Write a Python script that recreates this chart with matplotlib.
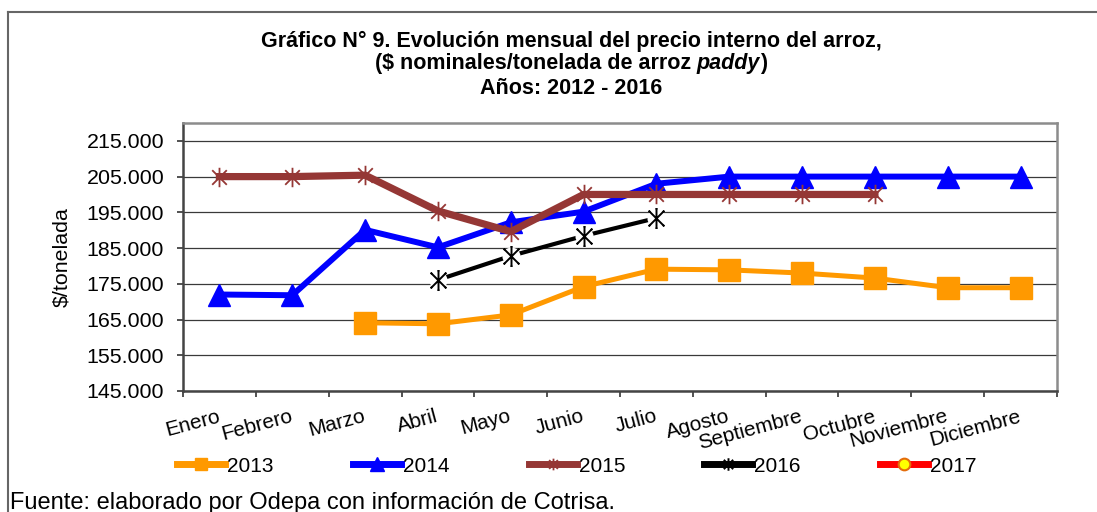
import numpy as np
import matplotlib
matplotlib.use("Agg")
import matplotlib.pyplot as plt
from matplotlib.path import Path
from matplotlib.lines import Line2D
from matplotlib.ticker import FuncFormatter, FixedLocator

plt.rcParams['font.family'] = ['Liberation Sans', 'DejaVu Sans']

meses = ["Enero", "Febrero", "Marzo", "Abril", "Mayo", "Junio", "Julio",
         "Agosto", "Septiembre", "Octubre", "Noviembre", "Diciembre"]
nan = np.nan
p2013 = [nan, nan, 164100, 163800, 166300, 174200, 179100, 178900, 178000, 176600, 173900, 173900]
p2014 = [172000, 171800, 190100, 185200, 192200, 195200, 203000, 205000, 205000, 205000, 205000, 205000]
p2015 = [205000, 205000, 205400, 195400, 189600, 200000, 200000, 200000, 200000, 200000, nan, nan]
p2016 = [nan, nan, nan, 176100, 182800, 188400, 193400, nan, nan, nan, nan, nan]
p2017 = [nan] * 12
yticks = [145000, 155000, 165000, 175000, 185000, 195000, 205000, 215000]

# Excel "star" marker: X plus vertical bar
star = Path([(0, -1), (0, 1), (-0.75, -0.75), (0.75, 0.75), (-0.75, 0.75), (0.75, -0.75)],
            [Path.MOVETO, Path.LINETO] * 3)

W, H = 1097, 512
fig = plt.figure(figsize=(W / 100, H / 100), dpi=100)
ax = fig.add_axes([183 / W, 1 - 391 / H, (1057 - 183) / W, (391 - 123) / H])

x = np.arange(len(meses))

l13, = ax.plot(x, p2013, color='#FF9900', lw=3.6, marker='s', ms=15.5,
               mfc='#FF9900', mec='#FF9900', label='2013', zorder=3)
l14, = ax.plot(x, p2014, color='#0000FF', lw=4.3, marker='^', ms=16,
               mfc='#0000FF', mec='#0000FF', label='2014', zorder=4)
l15, = ax.plot(x, p2015, color='#953735', lw=5.2, marker=star, ms=14,
               mec='#953735', mew=1.3, label='2015', zorder=5)
# 2016: markers sit on a white patch that cuts the line
l16, = ax.plot(x, p2016, color='black', lw=3, marker=star, ms=15,
               mec='black', mew=1.4, label='2016', zorder=6)
ax.plot(x, p2016, ls='none', marker='o', ms=13, mfc='white', mec='none', zorder=6.5)
ax.plot(x, p2016, ls='none', marker=star, ms=15, mec='black', mew=1.4, zorder=7)
l17, = ax.plot(x, p2017, color='#FF0000', lw=3, marker='o', ms=14,
               mfc='#FFFF00', mec='#E46C0A', mew=1.5, label='2017')

ax.set_xlim(-0.5, len(meses) - 0.5)
ax.set_ylim(145000, 220000)
ax.yaxis.set_major_locator(FixedLocator(yticks))
ax.yaxis.set_major_formatter(FuncFormatter(lambda v, p: f"{int(v):,}".replace(",", ".")))
ax.grid(axis='y', color='#3a3a3a', lw=0.9)
ax.set_axisbelow(True)

ax.set_xticks(x)
ax.set_xticklabels(meses, rotation=15, ha='right', va='center', rotation_mode='anchor')
ax.set_xticks(np.arange(-0.5, len(meses)), minor=True)
ax.tick_params(axis='x', which='major', length=0, pad=18, labelsize=15)
ax.tick_params(axis='x', which='minor', length=4.5, width=1.2, direction='out', color='#333333')
ax.tick_params(axis='y', length=4.5, width=1.2, direction='out', pad=9, labelsize=15.4, color='#333333')

for side in ['left', 'bottom']:
    ax.spines[side].set_color('#444444')
    ax.spines[side].set_linewidth(1.8)
for side in ['top', 'right']:
    ax.spines[side].set_color('#8c8c8c')
    ax.spines[side].set_linewidth(1.8)

ax.set_ylabel(r"\$/tonelada", fontsize=15.4, labelpad=11)

# title, three lines (second one mixes bold and bold italic)
cx = 571 / W
fs_t = 15.5
fig.text(cx, 1 - 41 / H, "Gráfico N° 9. Evolución mensual del precio interno del arroz,",
         ha='center', va='center', fontsize=fs_t, fontweight='bold')
fig.text(cx, 1 - 88 / H, "Años: 2012 - 2016",
         ha='center', va='center', fontsize=fs_t, fontweight='bold')

parts = [(r"(\$ nominales/tonelada de arroz ", 'normal'), ("paddy", 'italic'), (")", 'normal')]
renderer = fig.canvas.get_renderer()
texts = [fig.text(0, 1 - 63 / H, s, ha='left', va='center', fontsize=fs_t,
                  fontweight='bold', fontstyle=st) for s, st in parts]
widths = [t.get_window_extent(renderer).width / W for t in texts]
start = cx - sum(widths) / 2
for t, w in zip(texts, widths):
    t.set_x(start)
    start += w

leg = fig.legend([l13, l14, l15, l16, l17], ['2013', '2014', '2015', '2016', '2017'],
                 loc='center', bbox_to_anchor=(577 / W, 1 - 466 / H), ncol=5,
                 frameon=False, fontsize=15, handlelength=2.3, handletextpad=0.1,
                 columnspacing=3.8, markerscale=0.6)
for ln in leg.get_lines():
    ln.set_linewidth(5)

fig.text(10 / W, 1 - 503 / H, "Fuente: elaborado por Odepa con información de Cotrisa.",
         ha='left', va='center', fontsize=17)

# outer frame of the original figure box
fig.add_artist(Line2D([8 / W, 8 / W], [0, 1 - 12 / H], transform=fig.transFigure,
                      color='#666666', lw=1.5))
fig.add_artist(Line2D([8 / W, 1], [1 - 12 / H, 1 - 12 / H], transform=fig.transFigure,
                      color='#666666', lw=1.5))

fig.savefig("out.png", dpi=100)
